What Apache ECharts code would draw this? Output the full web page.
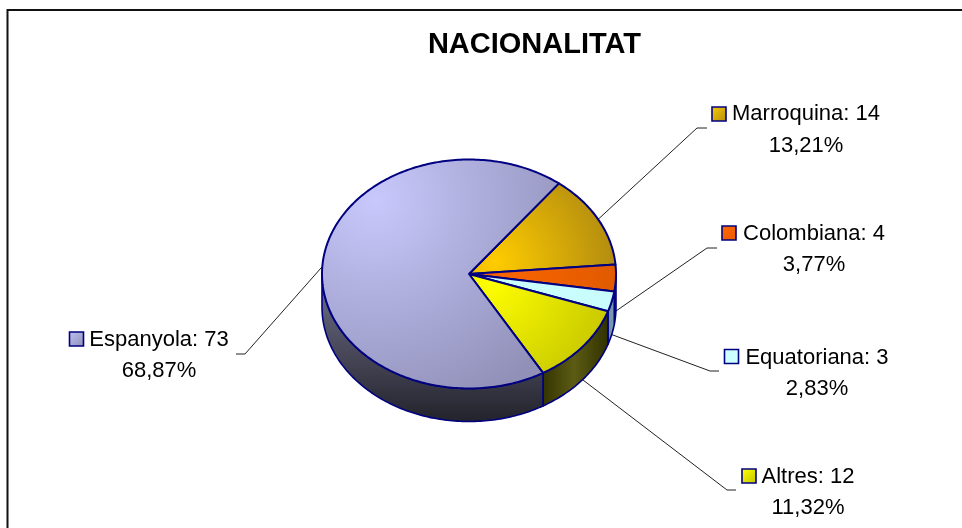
<!DOCTYPE html>
<html><head><meta charset="utf-8">
<style>html,body{margin:0;padding:0;background:#fff}#c{width:962px;height:528px}</style>
<script src="https://cdn.jsdelivr.net/npm/echarts@6/dist/echarts.min.js"></script>
</head><body><div id="c"></div>
<script>
const categories = ['Marroquina','Colombiana','Equatoriana','Altres','Espanyola'];
const values = [14,4,3,12,73];
const percentLabels = ['13,21%','3,77%','2,83%','11,32%','68,87%'];
const titleText = 'NACIONALITAT';

// layout and style (not data)
const CX=469, CY=274, RX=147, RY=114.5, DEPTH=33, START=-52.3;
const EDGE='#000080';
const G=echarts.graphic;
const radial=(x,y,r,a,b)=>new G.RadialGradient(x,y,r,[{offset:0,color:a},{offset:1,color:b}],true);
const linear=(x1,y1,x2,y2,stops)=>new G.LinearGradient(x1,y1,x2,y2,stops.map((c,i)=>({offset:i/(stops.length-1),color:c})),true);
const styles=[
 {top:radial(495,262,125,'#FFCC00','#B08A10'), key:['#F5C800','#B89010'], wall:linear(560,0,620,0,['#554400','#554400'])},
 {top:radial(480,274,140,'#FF6600','#E05A00'), key:['#FF6600','#E85C00'], wall:linear(0,270,0,320,['#A03C10','#702008'])},
 {top:radial(480,285,140,'#CCFFFF','#C8FCFC'), key:['#CCFFFF','#CCFFFF'], wall:linear(606,0,616,0,['#6C90A0','#7CA0B4'])},
 {top:radial(490,280,125,'#FFFF00','#C8C800'), key:['#FFFF00','#C4C400'], wall:linear(542,0,606,0,['#333300','#5C5C14','#333300'])},
 {top:radial(375,200,225,'#C8C8FC','#9090B8'), key:['#C0C0F0','#9090B8'], wall:linear(0,272,0,420,['#72728C','#24242E'])}
];
const labels=[
 {keyX:712,keyY:107,cx:806,y1:114,y2:146,line:[[697,128],[707,128]],rim:0},
 {keyX:722,keyY:226,cx:814,y1:234,y2:265,line:[[707,248],[717,248]],rim:1},
 {keyX:724.5,keyY:349.5,cx:817,y1:358,y2:389,line:[[710,371],[719,371]],rim:1},
 {keyX:742,keyY:469,cx:808,y1:477,y2:508,line:[[727,490],[736,490]],rim:1},
 {keyX:69.5,keyY:332,cx:159,y1:340,y2:371,line:[[245,354],[236,354]],rim:0}
];
const total=values.reduce((a,b)=>a+b,0);
const pt=(deg,dy=0)=>{const t=deg*Math.PI/180;return [CX+RX*Math.cos(t),CY+RY*Math.sin(t)+dy];};
const arc=(a,b,dy=0)=>{const n=Math.max(2,Math.ceil(Math.abs(b-a))),o=[];for(let i=0;i<=n;i++)o.push(pt(a+(b-a)*i/n,dy));return o;};

function renderItem(params,api){
  const i=params.dataIndex;
  let a=START;
  for(let k=0;k<i;k++)a+=values[k]/total*360;
  const sweep=api.value(0)/total*360, b=a+sweep, s=styles[i], l=labels[i], children=[];
  const ranges=[[a,b],[a-360,b-360]];
  ranges.forEach(([p,q])=>{
    const u=Math.max(p,0), v=Math.min(q,180);
    if(v>u){
      children.push({type:'polygon',z2:1,shape:{points:arc(u,v).concat(arc(v,u,DEPTH))},
        style:{fill:s.wall,stroke:EDGE,lineWidth:1.6,lineJoin:'round'}});
    }
  });
  children.push({type:'polygon',z2:2,shape:{points:[[CX,CY]].concat(arc(a,b))},
    style:{fill:s.top,stroke:EDGE,lineWidth:2,lineJoin:'round'}});
  const mid=(a+b)/2;
  const start=pt(mid,l.rim?DEPTH:0);
  children.push({type:'polyline',z2:0,shape:{points:[start].concat(l.line)},
    style:{fill:null,stroke:'#222',lineWidth:1}});
  children.push({type:'rect',z2:3,shape:{x:l.keyX,y:l.keyY,width:14,height:14},
    style:{fill:linear(l.keyX,l.keyY,l.keyX+14,l.keyY+14,s.key),stroke:EDGE,lineWidth:1.6}});
  const font='22px "Liberation Sans"';
  children.push({type:'text',z2:3,style:{x:l.cx,y:l.y1,text:categories[i]+': '+api.value(0),font,fill:'#000',align:'center',verticalAlign:'middle'}});
  children.push({type:'text',z2:3,style:{x:l.cx,y:l.y2,text:percentLabels[i],font,fill:'#000',align:'center',verticalAlign:'middle'}});
  return {type:'group',children};
}

const chart=echarts.init(document.getElementById('c'),null,{renderer:'canvas'});
chart.setOption({
  animation:false,
  backgroundColor:'#fff',
  title:{text:titleText,left:529.5,top:40,textAlign:'center',textVerticalAlign:'middle',
    textStyle:{fontFamily:'Liberation Sans',fontWeight:'bold',fontSize:29,color:'#000'}},
  graphic:[{type:'polyline',silent:true,shape:{points:[[7.5,528],[7.5,10],[962,10]]},
    style:{fill:null,stroke:'#111',lineWidth:2}}],
  series:[{type:'custom',coordinateSystem:'none',silent:true,renderItem,
    data:values.map((v,i)=>({name:categories[i],value:[v]}))}]
});
</script></body></html>
